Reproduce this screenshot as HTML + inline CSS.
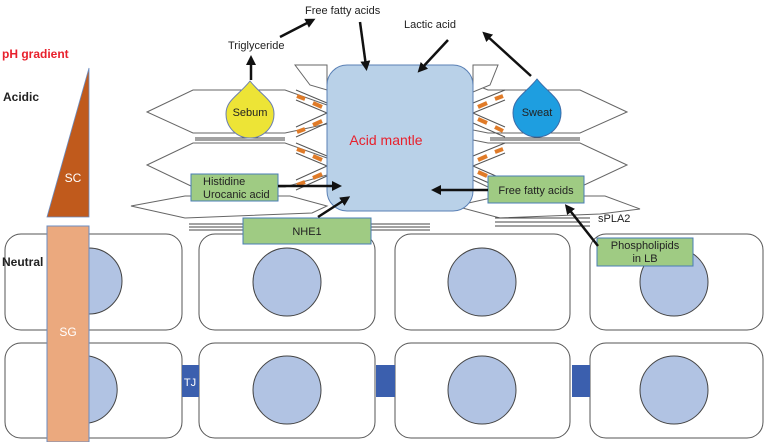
<!DOCTYPE html>
<html><head><meta charset="utf-8"><style>
body{margin:0;background:#fff}
svg{display:block}
text{font-family:"Liberation Sans",sans-serif}
</style></head><body>
<svg width="768" height="442" viewBox="0 0 768 442" xmlns="http://www.w3.org/2000/svg">
<defs><marker id="ah" markerWidth="4" markerHeight="4" refX="2" refY="2" orient="auto" markerUnits="strokeWidth"><path d="M0,0 L4,2 L0,4 z" fill="#111"/></marker></defs>
<!-- cells -->
<g fill="#fff" stroke="#555" stroke-width="1">
<rect x="5" y="234" width="177" height="96" rx="16"/>
<rect x="199" y="234" width="176" height="96" rx="16"/>
<rect x="395" y="234" width="175" height="96" rx="16"/>
<rect x="590" y="234" width="173" height="96" rx="16"/>
<rect x="5" y="343" width="177" height="95" rx="16"/>
<rect x="199" y="343" width="176" height="95" rx="16"/>
<rect x="395" y="343" width="175" height="95" rx="16"/>
<rect x="590" y="343" width="173" height="95" rx="16"/>
</g>
<g fill="#b1c3e3" stroke="#444" stroke-width="1">
<circle cx="287" cy="282" r="34"/><circle cx="482" cy="282" r="34"/><circle cx="674" cy="282" r="34"/>
<circle cx="287" cy="390" r="34"/><circle cx="482" cy="390" r="34"/><circle cx="674" cy="390" r="34"/>
<path d="M89,248 A33,33 0 0 1 89,314 Z"/><path d="M89,356 A34,34 0 0 1 89,423 Z"/>
</g>
<g fill="#3b5fae"><rect x="182" y="365" width="17" height="32"/><rect x="376" y="365" width="19" height="32"/><rect x="572" y="365" width="18" height="32"/></g>
<text x="190" y="386" font-size="11" fill="#fff" text-anchor="middle">TJ</text>
<!-- SG & SC -->
<rect x="47" y="226" width="42" height="216" fill="#eba97e" stroke="#6b8cc0" stroke-width="1"/>
<text x="68" y="117" font-size="1"> </text>
<text x="68" y="336" font-size="12" fill="#fff" text-anchor="middle">SG</text>
<polygon points="47,217 89,217 89,68" fill="#c05a1c" stroke="#6b8cc0" stroke-width="0.8"/>
<text x="73" y="182" font-size="12" fill="#fff" text-anchor="middle">SC</text>
<!-- hexagons -->
<g fill="#fff" stroke="#666" stroke-width="1">
<polygon points="147,112 193,90 285,90 327,105 327,124 285,133 193,133"/>
<polygon points="147,165 193,143 285,143 327,158 327,175 285,187 193,187"/>
<polygon points="131,206 185,196 290,196 327,206 312,213 185,218"/>
<polygon points="295,65 327,65 327,90 310,85"/>
<polygon points="627,112 580,90 488,90 473,84 473,130 488,133 580,133"/>
<polygon points="627,165 580,143 488,143 473,140 473,180 488,187 580,187"/>
<polygon points="455,206 500,196 605,196 640,209 600,214 500,218"/>
<polygon points="473,65 498,65 490,85 473,92"/>
</g>
<!-- X bands with orange dashes -->
<g stroke="#555" stroke-width="1" fill="none">
<path d="M296,90 L327,103 M296,100 L327,113 M296,127 L327,113 M296,137 L327,123"/>
<path d="M296,143 L327,156 M296,153 L327,166 M296,180 L327,166 M296,190 L327,176"/>
<path d="M473,103 L505,90 M473,113 L505,100 M473,113 L505,127 M473,123 L505,137"/>
<path d="M473,156 L505,143 M473,166 L505,153 M473,166 L505,180 M473,176 L505,190"/>
</g>
<g stroke="#e07b28" stroke-width="4" fill="none">
<path d="M297,96 L305,99 M313,103 L322,107 M297,132 L305,129 M313,125 L322,121"/>
<path d="M297,149 L305,152 M313,156 L322,160 M297,185 L305,182 M313,178 L322,174"/>
<path d="M478,107 L487,103 M495,99 L503,96 M478,119 L487,123 M495,127 L503,131"/>
<path d="M478,160 L487,156 M495,152 L503,149 M478,172 L487,176 M495,180 L503,184"/>
</g>
<!-- double lines -->
<g stroke="#444" stroke-width="1">
<line x1="195" y1="138" x2="285" y2="138"/><line x1="195" y1="140" x2="285" y2="140"/>
<line x1="490" y1="138" x2="580" y2="138"/><line x1="490" y1="140" x2="580" y2="140"/>
<line x1="189" y1="224" x2="430" y2="224"/><line x1="189" y1="227" x2="430" y2="227"/><line x1="189" y1="230" x2="430" y2="230"/>
<line x1="495" y1="218" x2="590" y2="218"/><line x1="495" y1="222" x2="590" y2="222"/><line x1="495" y1="226" x2="590" y2="226"/>
</g>
<!-- acid mantle -->
<rect x="327" y="65" width="146" height="146" rx="20" fill="#b9d1e8" stroke="#5a80b5" stroke-width="1"/>
<text x="386" y="145" font-size="14" fill="#e8202c" text-anchor="middle">Acid mantle</text>
<!-- drops -->
<path d="M250,81 C262,96 274,100 274,114 A24,24 0 0 1 226,114 C226,100 238,96 250,81 Z" fill="#ede436" stroke="#6b7fb0"/>
<text x="250" y="116" font-size="11" text-anchor="middle" fill="#222">Sebum</text>
<path d="M537,79 C549,94 561,98 561,113 A24,24 0 0 1 513,113 C513,98 525,94 537,79 Z" fill="#1e9ee0" stroke="#3c6ca8"/>
<text x="537" y="116" font-size="11" text-anchor="middle" fill="#222">Sweat</text>
<!-- green boxes -->
<g fill="#9fcb83" stroke="#4a7db5" stroke-width="1">
<rect x="191" y="174" width="87" height="27"/>
<rect x="243" y="218" width="128" height="26"/>
<rect x="488" y="176" width="96" height="27"/>
<rect x="597" y="238" width="96" height="28"/>
</g>
<g font-size="11" fill="#222">
<text x="203" y="185">Histidine</text><text x="203" y="198">Urocanic acid</text>
<text x="307" y="235" text-anchor="middle">NHE1</text>
<text x="536" y="194" text-anchor="middle">Free fatty acids</text>
<text x="645" y="249" text-anchor="middle">Phospholipids</text><text x="645" y="262" text-anchor="middle">in LB</text>
<text x="598" y="222">sPLA2</text>
<text x="228" y="49">Triglyceride</text>
<text x="305" y="14">Free fatty acids</text>
<text x="404" y="28">Lactic acid</text>
</g>
<!-- arrows -->
<g stroke="#111" stroke-width="2.5" marker-end="url(#ah)" fill="none">
<line x1="251" y1="80" x2="251" y2="60"/>
<line x1="280" y1="37" x2="311" y2="21"/>
<line x1="360" y1="22" x2="366" y2="66"/>
<line x1="448" y1="40" x2="421" y2="69"/>
<line x1="531" y1="76" x2="486" y2="35"/>
<line x1="278" y1="186" x2="337" y2="186"/>
<line x1="318" y1="217" x2="346" y2="199"/>
<line x1="488" y1="190" x2="436" y2="190"/>
<line x1="598" y1="246" x2="568" y2="208"/>
</g>
<g font-size="12" font-weight="bold">
<text x="2" y="58" fill="#e8202c">pH gradient</text>
<text x="3" y="101" fill="#222">Acidic</text>
<text x="2" y="266" fill="#222">Neutral</text>
</g>
</svg>
</body></html>
